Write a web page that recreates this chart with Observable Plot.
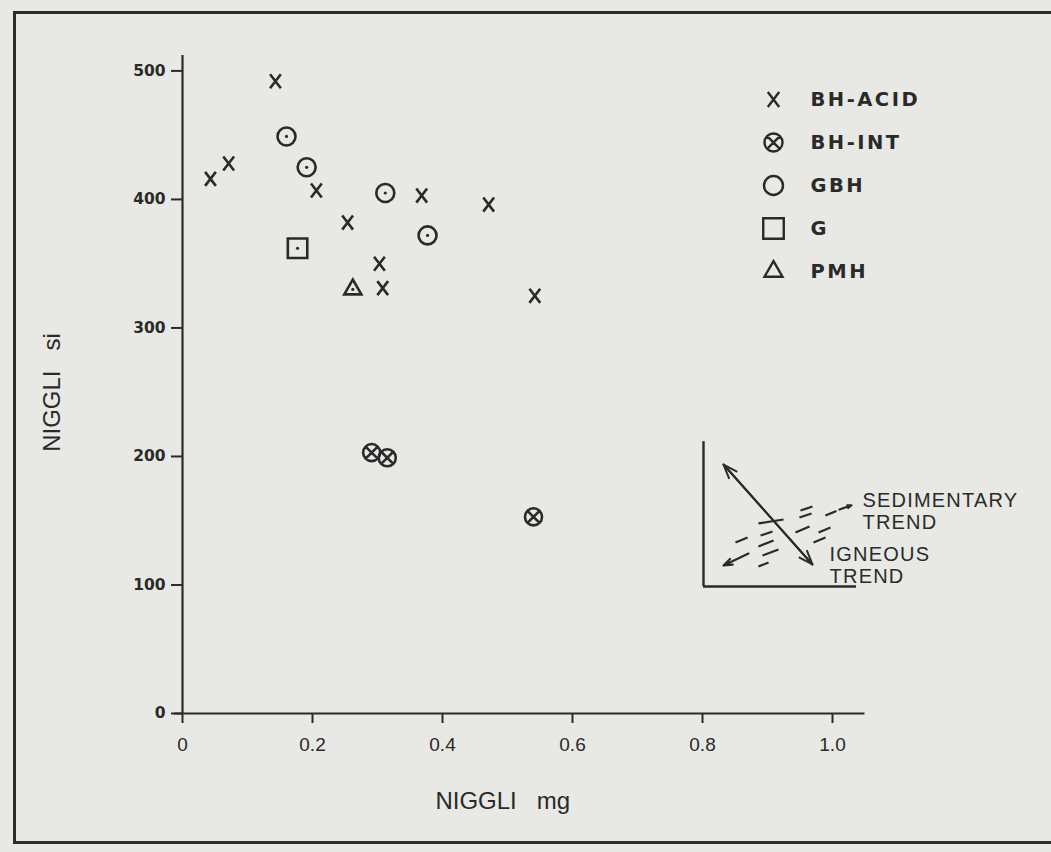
<!DOCTYPE html>
<html>
<head>
<meta charset="utf-8">
<script src="https://cdn.jsdelivr.net/npm/d3@7"></script>
<script src="https://cdn.jsdelivr.net/npm/@observablehq/plot@0.6"></script>
<style>
  html, body { margin: 0; padding: 0; }
  body { width: 1051px; height: 852px; overflow: hidden; position: relative; background: #e8e8e5; }
  #frame { position: absolute; left: 13px; top: 11px; width: 1100px; height: 827px;
           border-left: 3px solid #2c2c2c; border-top: 3px solid #2c2c2c; border-bottom: 3px solid #2c2c2c; }
  #main { position: absolute; left: 0; top: 0; }
  #legend { position: absolute; left: 755px; top: 75px; width: 200px; }
  #inset { position: absolute; left: 700px; top: 440px; width: 351px; }
  svg text { white-space: pre; }
  #legend text { letter-spacing: 2.5px; }
  #inset text { letter-spacing: 1.2px; }
</style>
</head>
<body>
<div id="frame"></div>
<div id="main"></div>
<div id="legend"></div>
<div id="inset"></div>
<script>
// ---------- data ----------
const types = ["BH-ACID", "BH-INT", "GBH", "G", "PMH"];

const acidMg = [0.143, 0.043, 0.071, 0.206, 0.254, 0.368, 0.471, 0.303, 0.308, 0.542];
const acidSi = [492, 416, 428, 407, 382, 403, 396, 350, 331, 325];
const intMg  = [0.291, 0.315, 0.540];
const intSi  = [203, 199, 153];
const gbhMg  = [0.160, 0.191, 0.312, 0.377];
const gbhSi  = [449, 425, 405, 372];
const gMg    = [0.177];
const gSi    = [362];
const pmhMg  = [0.262];
const pmhSi  = [330];

const xTicks = [0, 0.2, 0.4, 0.6, 0.8, 1.0];
const xTickLabels = ["0", "0.2", "0.4", "0.6", "0.8", "1.0"];
const yTicks = [0, 100, 200, 300, 400, 500];
const yTickLabels = ["0", "100", "200", "300", "400", "500"];

const xLabel = "NIGGLI   mg";
const yLabel = "NIGGLI   si";

// schematic inset (unit square of the sketch)
const igneousArrow = [{x1: 0.131, y1: 0.859, x2: 0.712, y2: 0.155}];
const sedArrows = [
  {x1: 0.294, y1: 0.232, x2: 0.131, y2: 0.148},
  {x1: 0.889, y1: 0.542, x2: 0.967, y2: 0.572}
];
const sedDashes = [
  {x1: 0.634, y1: 0.535, x2: 0.712, y2: 0.563},
  {x1: 0.627, y1: 0.486, x2: 0.706, y2: 0.514},
  {x1: 0.601, y1: 0.380, x2: 0.693, y2: 0.423},
  {x1: 0.797, y1: 0.500, x2: 0.869, y2: 0.532},
  {x1: 0.719, y1: 0.310, x2: 0.797, y2: 0.345},
  {x1: 0.752, y1: 0.380, x2: 0.830, y2: 0.415},
  {x1: 0.359, y1: 0.444, x2: 0.523, y2: 0.472},
  {x1: 0.373, y1: 0.359, x2: 0.451, y2: 0.387},
  {x1: 0.209, y1: 0.310, x2: 0.288, y2: 0.345},
  {x1: 0.359, y1: 0.282, x2: 0.458, y2: 0.324},
  {x1: 0.386, y1: 0.218, x2: 0.490, y2: 0.261},
  {x1: 0.359, y1: 0.141, x2: 0.425, y2: 0.169}
];
const insetLabels = ["SEDIMENTARY\nTREND", "IGNEOUS\nTREND"];
const insetLabelX = [1.039, 0.824];
const insetLabelY = [0.532, 0.151];

// ---------- build tables ----------
const points = [
  ...acidMg.map((mg, i) => ({type: "BH-ACID", mg, si: acidSi[i]})),
  ...intMg.map((mg, i) => ({type: "BH-INT", mg, si: intSi[i]})),
  ...gbhMg.map((mg, i) => ({type: "GBH", mg, si: gbhSi[i]})),
  ...gMg.map((mg, i) => ({type: "G", mg, si: gSi[i]})),
  ...pmhMg.map((mg, i) => ({type: "PMH", mg, si: pmhSi[i]}))
];
const dotted = new Set(["GBH", "G", "PMH"]);

const ink = "#2a2a2a";
const rad = size => Math.sqrt(size / Math.PI);
const symX = {draw(c, s) { const r = rad(s), w = 0.6 * r, h = 0.78 * r;
  c.moveTo(-w, -h); c.lineTo(w, h); c.moveTo(w, -h); c.lineTo(-w, h); }};
const symOX = {draw(c, s) { const r = rad(s) * 0.95, d = r * 0.707;
  c.moveTo(r, 0); c.arc(0, 0, r, 0, 2 * Math.PI);
  c.moveTo(-d, -d); c.lineTo(d, d); c.moveTo(d, -d); c.lineTo(-d, d); }};
const symO = {draw(c, s) { const r = rad(s); c.moveTo(r, 0); c.arc(0, 0, r, 0, 2 * Math.PI); }};
const symSq = {draw(c, s) { const h = rad(s) * 1.08; c.rect(-h, -h, 2 * h, 2 * h); }};
const symTri = {draw(c, s) { const r = rad(s);
  c.moveTo(0, -1.1 * r); c.lineTo(0.95 * r, 0.55 * r); c.lineTo(-0.95 * r, 0.55 * r); c.closePath(); }};
const symbolRange = [symX, symOX, symO, symSq, symTri];

// ---------- main chart ----------
const main = Plot.plot({
  width: 1051, height: 852,
  marginLeft: 182, marginRight: 186.5, marginTop: 55, marginBottom: 139,
  x: {domain: [0, 1.05]},
  y: {domain: [0, 512]},
  symbol: {domain: types, range: symbolRange},
  style: {background: "transparent", overflow: "visible", color: ink,
          fontFamily: "'Liberation Sans', Arial, sans-serif"},
  marks: [
    Plot.ruleX([0], {y1: 0, y2: 512, stroke: ink, strokeWidth: 2.2}),
    Plot.ruleY([0], {x1: -0.012, x2: 1.05, stroke: ink, strokeWidth: 2.2}),
    Plot.axisX({ticks: xTicks, tickSize: 10, tickPadding: 14, strokeWidth: 2,
      tickFormat: d => xTickLabels[xTicks.indexOf(d)], fontSize: 19, label: null}),
    Plot.axisY({ticks: yTicks, tickSize: 11, tickPadding: 6, strokeWidth: 2,
      tickFormat: d => yTickLabels[yTicks.indexOf(d)], fontSize: 15.5, fontWeight: "bold",
      fontFamily: "'DejaVu Sans', sans-serif", label: null}),
    Plot.dot(points, {x: "mg", y: "si", symbol: "type", r: 9, fill: "none",
      stroke: ink, strokeWidth: 2.6}),
    Plot.dot(points.filter(d => dotted.has(d.type)), {x: "mg", y: "si", r: 1.6, fill: ink}),
    Plot.text([xLabel], {text: d => d, frameAnchor: "bottom", textAnchor: "middle", dx: -21, dy: 95,
      fontSize: 24, fill: ink, fontFamily: "'Liberation Sans Narrow', 'Liberation Sans', sans-serif"}),
    Plot.text([yLabel], {text: d => d, frameAnchor: "left", textAnchor: "middle", rotate: -90,
      dx: -130, dy: 8,
      fontSize: 24, fill: ink, fontFamily: "'Liberation Sans Narrow', 'Liberation Sans', sans-serif"})
  ]
});
document.getElementById("main").append(main);

// ---------- legend ----------
const legend = Plot.plot({
  width: 200, height: 240, margin: 0,
  x: {domain: [0, 1], range: [18, 180], axis: null},
  y: {type: "point", domain: types, range: [23, 196], padding: 0, axis: null},
  symbol: {domain: types, range: symbolRange},
  style: {background: "transparent", overflow: "visible", color: ink},
  marks: [
    Plot.dot(types, {x: () => 0, y: d => d, symbol: d => d, r: 9.5, fill: "none",
      stroke: ink, strokeWidth: 2.4}),
    Plot.text(types, {x: () => 0, y: d => d, text: d => d, dx: 37, textAnchor: "start",
      fontSize: 19.5, fontWeight: "bold", fill: ink,
      fontFamily: "'DejaVu Sans', sans-serif"})
  ]
});
document.getElementById("legend").append(legend);

// ---------- inset sketch ----------
const inset = Plot.plot({
  width: 351, height: 150,
  marginLeft: 3, marginRight: 195, marginTop: 4, marginBottom: 4,
  x: {domain: [0, 1], axis: null},
  y: {domain: [0, 1], axis: null},
  style: {background: "transparent", overflow: "visible", color: ink},
  marks: [
    Plot.ruleX([0], {y1: 0, y2: 1.02, stroke: ink, strokeWidth: 2.4}),
    Plot.ruleY([0], {x1: 0, x2: 1, stroke: ink, strokeWidth: 2.4}),
    Plot.arrow(igneousArrow, {x1: "x1", y1: "y1", x2: "x2", y2: "y2", stroke: ink,
      strokeWidth: 2, headLength: 11, headAngle: 40}),
    Plot.arrow(igneousArrow, {x1: "x2", y1: "y2", x2: "x1", y2: "y1", stroke: ink,
      strokeWidth: 2, headLength: 11, headAngle: 40}),
    Plot.link(sedDashes, {x1: "x1", y1: "y1", x2: "x2", y2: "y2", stroke: ink, strokeWidth: 2.2}),
    Plot.arrow(sedArrows, {x1: "x1", y1: "y1", x2: "x2", y2: "y2", stroke: ink,
      strokeWidth: 2.2, headLength: 11, headAngle: 40}),
    Plot.text(insetLabels, {x: (d, i) => insetLabelX[i], y: (d, i) => insetLabelY[i],
      text: d => d, textAnchor: "start", lineAnchor: "middle", lineHeight: 1.1,
      fontSize: 20, fill: ink, fontFamily: "'Liberation Sans', Arial, sans-serif"})
  ]
});
document.getElementById("inset").append(inset);
</script>
</body>
</html>
